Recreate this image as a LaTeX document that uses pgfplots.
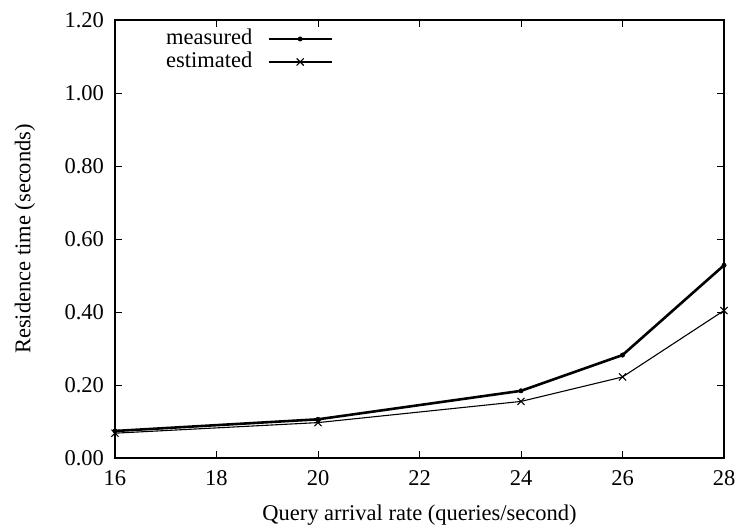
\documentclass[border=0pt]{standalone}
\usepackage{fontspec}
\setmainfont{Liberation Serif}
\usepackage{pgfplots}
\pgfplotsset{compat=1.18}
\newcommand{\ff}{\fontsize{22.5bp}{26bp}\selectfont}
\begin{document}
\begin{tikzpicture}[font=\ff]
\begin{axis}[
  scale only axis,
  width=609bp, height=438bp,
  xmin=16, xmax=28, ymin=0, ymax=1.2,
  xtick={16,18,...,28},
  ytick={0,0.2,...,1.2},
  tick align=inside,
  major tick length=7bp,
  /pgf/number format/assume math mode=true,
  tick label style={font=\ff},
  label style={font=\ff},
  yticklabel style={anchor=east, xshift=-7.5bp, /pgf/number format/.cd,fixed,fixed zerofill,precision=2},
  xticklabel style={anchor=north, yshift=-9bp, /pgf/number format/.cd,fixed},
  xlabel={Query arrival rate (queries/second)},
  ylabel={Residence time (seconds)},
  xlabel style={at={(axis description cs:0.5,0)}, anchor=center, yshift=-57bp},
  ylabel style={at={(axis description cs:0,0.5)}, anchor=center, yshift=90bp},
  axis line style={line width=1.1pt},
  every tick/.style={black, line width=0.8pt},
  legend plot pos=right,
  legend cell align=right,
  legend style={draw=none, fill=none, inner sep=0pt, outer sep=0pt,
    at={(axis description cs:0.358,1)}, anchor=north east, yshift=-9.5bp,
    nodes={inner sep=0pt, text height=15bp, text depth=4bp},
    row sep=4bp, column sep=15bp,
    font=\ff},
  legend image code/.code={\draw[mark repeat=2,mark phase=2,#1] plot coordinates {(0bp,0bp) (31.5bp,0bp) (63bp,0bp)};},
]
\addplot[black, line width=2.6pt, mark=*, mark size=2.2bp, mark options={line width=0.5pt}]
  coordinates {(16,0.074) (20,0.106) (24,0.184) (26,0.282) (28,0.528)};
\addlegendentry{measured}
\addplot[black, line width=1.1pt, mark=x, mark size=5bp, mark options={line width=1.1pt}]
  coordinates {(16,0.068) (20,0.097) (24,0.155) (26,0.222) (28,0.404)};
\addlegendentry{estimated}
\end{axis}
\pgfresetboundingbox
\path[use as bounding box] ([shift={(-115bp,-70bp)}]current axis.south west) rectangle ([shift={(15bp,20bp)}]current axis.north east);
\end{tikzpicture}
\end{document}
